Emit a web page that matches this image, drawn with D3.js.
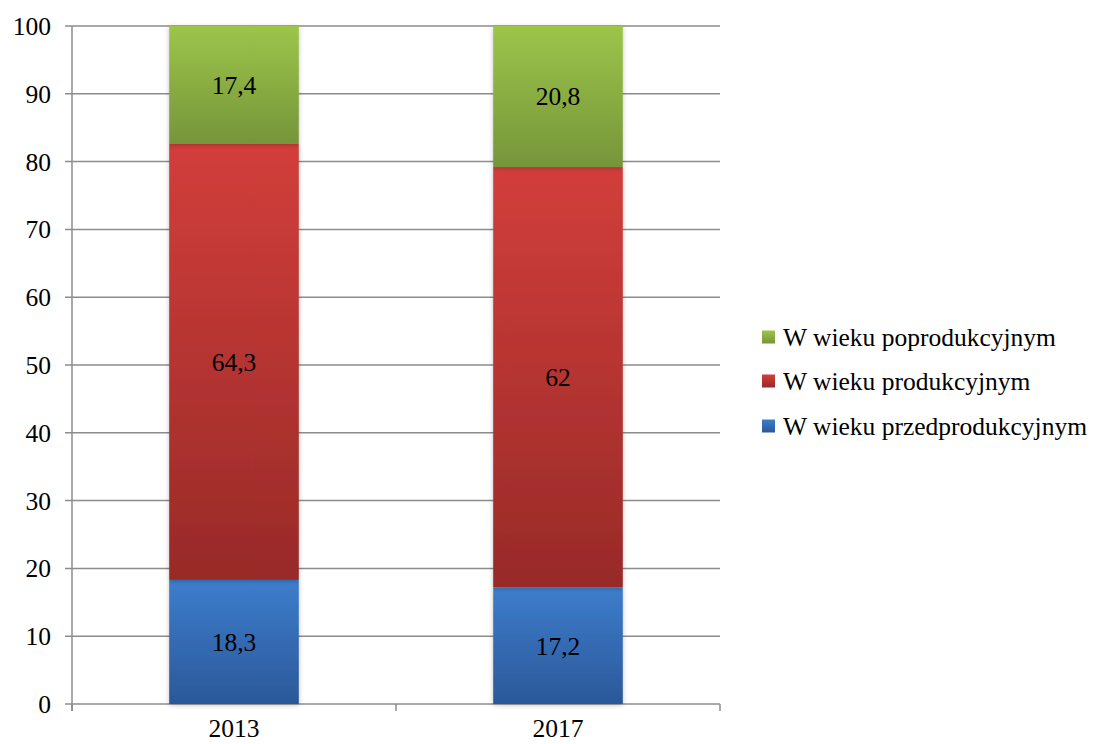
<!DOCTYPE html>
<html><head><meta charset="utf-8">
<script src="https://cdn.jsdelivr.net/npm/d3@7"></script>
<style>body{margin:0;background:#fff}</style>
</head><body>
<svg id="c" width="1102" height="744" font-family="'Liberation Serif', 'Times New Roman', Times, 'DejaVu Serif', serif"></svg>
<script>
const categories = ["2013", "2017"];
const seriesNames = ["W wieku przedprodukcyjnym", "W wieku produkcyjnym", "W wieku poprodukcyjnym"];
const przed = [18.3, 17.2];
const prod = [64.3, 62];
const popr = [17.4, 20.8];
const valueLabels = [["18,3", "17,2"], ["64,3", "62"], ["17,4", "20,8"]];
const yTicks = [0,10,20,30,40,50,60,70,80,90,100];

const FS = 25.5;
const colors = [["#3d7dcc","#2b5899"],["#d23e3b","#982a28"],["#9cc54a","#76953a"]];
const svg = d3.select("#c");
const x = d3.scaleBand().domain(categories).range([72,720]).paddingInner(0.6).paddingOuter(0.3);
const y = d3.scaleLinear().domain([0,100]).range([704,26]);

const defs = svg.append("defs");
colors.forEach((c,i)=>{
  const g = defs.append("linearGradient").attr("id","g"+i).attr("x1",0).attr("y1",0).attr("x2",0).attr("y2",1);
  g.append("stop").attr("offset","0%").attr("stop-color",c[0]);
  g.append("stop").attr("offset","100%").attr("stop-color",c[1]);
});
const f = defs.append("filter").attr("id","sh").attr("x","-10%").attr("y","-5%").attr("width","120%").attr("height","110%");
f.append("feGaussianBlur").attr("in","SourceAlpha").attr("stdDeviation",2.5).attr("result","b");
f.append("feOffset").attr("in","b").attr("dx",0).attr("dy",1).attr("result","o");
f.append("feComponentTransfer").attr("in","o").attr("result","o2").append("feFuncA").attr("type","linear").attr("slope",0.25);
const m = f.append("feMerge"); m.append("feMergeNode").attr("in","o2"); m.append("feMergeNode").attr("in","SourceGraphic");

svg.append("g").selectAll("line").data(yTicks).join("line")
  .attr("x1",65).attr("x2",720).attr("y1",d=>y(d)).attr("y2",d=>y(d))
  .attr("stroke","#8c8c8c").attr("stroke-width",1.5);
svg.append("line").attr("x1",72).attr("x2",72).attr("y1",26).attr("y2",711).attr("stroke","#8c8c8c").attr("stroke-width",1.5);
const xt = [72, 396, 720];
svg.append("g").selectAll("line").data(xt).join("line")
  .attr("x1",d=>d).attr("x2",d=>d).attr("y1",704).attr("y2",711).attr("stroke","#8c8c8c").attr("stroke-width",1.5);

svg.append("g").selectAll("text").data(yTicks).join("text")
  .attr("x",51).attr("y",d=>y(d)).attr("dy","0.35em").attr("text-anchor","end")
  .attr("font-size",FS).attr("fill","#000").text(d=>d);
svg.append("g").selectAll("text").data(categories).join("text")
  .attr("x",d=>x(d)+x.bandwidth()/2).attr("y",737).attr("text-anchor","middle")
  .attr("font-size",FS).attr("fill","#000").text(d=>d);

const data = categories.map((c,i)=>({cat:c, przed:przed[i], prod:prod[i], popr:popr[i]}));
const stack = d3.stack().keys(["przed","prod","popr"])(data);
stack.forEach((s,si)=>{
  const g = svg.append("g").attr("filter","url(#sh)");
  g.selectAll("rect").data(s).join("rect")
    .attr("x",d=>x(d.data.cat)).attr("width",x.bandwidth())
    .attr("y",d=>y(d[1])).attr("height",d=>y(d[0])-y(d[1]))
    .attr("fill","url(#g"+si+")");
});
stack.forEach((s,si)=>{
  svg.append("g").selectAll("text").data(s).join("text")
    .attr("x",d=>x(d.data.cat)+x.bandwidth()/2).attr("y",d=>(y(d[0])+y(d[1]))/2)
    .attr("dy","0.35em").attr("text-anchor","middle").attr("font-size",FS).attr("fill","#000")
    .text((d,i)=>valueLabels[si][i]);
});

const legY = [337, 381, 426];
const legOrder = [2,1,0];
legOrder.forEach((si,k)=>{
  svg.append("rect").attr("x",762).attr("y",legY[k]-6.5).attr("width",13).attr("height",13).attr("fill","url(#g"+si+")");
  svg.append("text").attr("x",783).attr("y",legY[k]).attr("dy","0.35em").attr("font-size",FS).attr("fill","#000").text(seriesNames[si]);
});
</script>
</body></html>
